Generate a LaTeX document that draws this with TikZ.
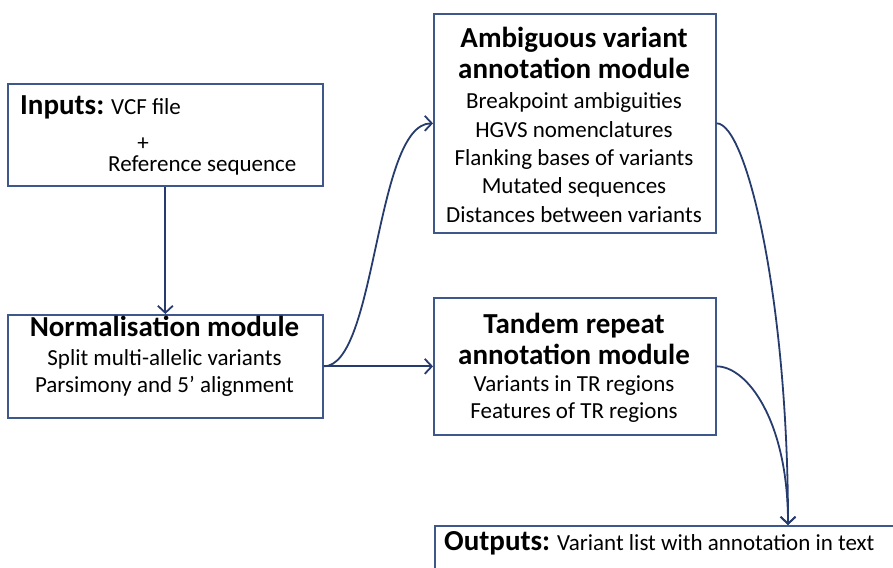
\documentclass[tikz,border=0pt]{standalone}
\usepackage{fontspec}
\setmainfont{Carlito}
\usetikzlibrary{arrows.meta}
\definecolor{boxc}{RGB}{62,88,140}
\definecolor{arrc}{RGB}{38,60,110}
\tikzset{
  box/.style={draw=boxc, line width=1.7pt, rectangle, inner sep=0pt, anchor=north west},
  head/.style={font=\fontsize{29}{31}\selectfont\bfseries, anchor=base, inner sep=0pt},
  body/.style={font=\fontsize{23}{28}\selectfont, anchor=base, inner sep=0pt},
  conn/.style={draw=arrc, line width=1.8pt, -{Straight Barb[length=7pt,width=15pt]}}
}
\begin{document}
\begin{tikzpicture}[x=1pt,y=-1pt]
\useasboundingbox (0,0) rectangle (893,567);
\clip (0,0) rectangle (893,567);
% boxes
\node[box, minimum width=315pt, minimum height=102pt] (inp) at (7,83) {};
\node[box, minimum width=315pt, minimum height=103pt] (norm) at (7,314) {};
\node[box, minimum width=282pt, minimum height=219pt] (amb) at (433,13) {};
\node[box, minimum width=282pt, minimum height=137pt] (tan) at (433,297) {};
\node[box, minimum width=500pt, minimum height=80pt] (out) at (434,525) {};
\coordinate (outin) at (788,525);
% inputs text
\node[body, anchor=base west] (inpt) at (20,114) {{\fontsize{29}{31}\selectfont\bfseries Inputs:} VCF file};
\node[body] (inpplus) at (143,150) {+};
\node[body, anchor=base west] (inpref) at (108,171) {Reference sequence};
% normalisation
\node[head] (normh) at (164.5,336) {Normalisation module};
\node[body] (norm1) at (164.5,365) {Split multi-allelic variants};
\node[body] (norm2) at (164.5,392) {Parsimony and 5’ alignment};
% ambiguous
\node[head] (ambh1) at (574,48) {Ambiguous variant};
\node[head] (ambh2) at (574,79) {annotation module};
\foreach \t [count=\i] in {Breakpoint ambiguities, HGVS nomenclatures, Flanking bases of variants, Mutated sequences, Distances between variants}
  \node[body] (amb\i) at (574,{109+28.25*(\i-1)}) {\t};
% tandem
\node[head] (tanh1) at (574,333) {Tandem repeat};
\node[head] (tanh2) at (574,364) {annotation module};
\node[body] (tan1) at (574,391) {Variants in TR regions};
\node[body] (tan2) at (574,418) {Features of TR regions};
% outputs
\node[body, anchor=base west] (outt) at (444,550) {{\fontsize{29}{31}\selectfont\bfseries Outputs:} Variant list with annotation in text};
% connectors
\draw[conn] (inp.south) -- (norm.north);
\draw[conn] (norm.east) -- (tan.west);
\draw[conn] (norm.east) .. controls +(53,0) and +(-58,0) .. (amb.west);
\draw[conn] (amb.east) .. controls +(30,0) and +(0,-225) .. (outin);
\draw[conn] (tan.east) .. controls +(30,0) and +(0,-105) .. (outin);
\end{tikzpicture}
\end{document}
